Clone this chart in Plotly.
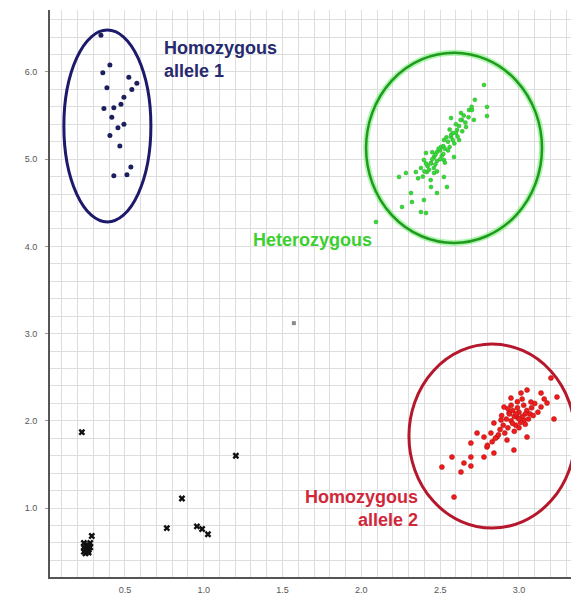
import plotly.graph_objects as go

# ---- data ----
allele1_x = [0.348, 0.405, 0.36, 0.525, 0.576, 0.386, 0.544, 0.494, 0.475, 0.367, 0.43,
             0.417, 0.494, 0.456, 0.405, 0.468, 0.538, 0.43, 0.513]
allele1_y = [6.42, 6.08, 5.99, 5.94, 5.87, 5.82, 5.80, 5.71, 5.63, 5.58, 5.59,
             5.48, 5.40, 5.36, 5.27, 5.15, 4.91, 4.81, 4.82]

hetero_x = [2.778, 2.797, 2.797, 2.683, 2.569, 2.638, 2.664, 2.607, 2.569, 2.524, 2.505, 2.480,
            2.410, 2.461, 2.397, 2.524, 2.588, 2.442, 2.378, 2.416, 2.461, 2.346, 2.283, 2.239,
            2.524, 2.442, 2.543, 2.480, 2.315, 2.397, 2.321, 2.258, 2.378, 2.410, 2.093, 2.702,
            2.632, 2.714,
            2.42, 2.45, 2.47, 2.50, 2.52, 2.55, 2.57, 2.60, 2.62, 2.44, 2.48, 2.51, 2.53, 2.56,
            2.58, 2.49, 2.46, 2.43, 2.40, 2.54, 2.59, 2.61, 2.64, 2.66, 2.68, 2.47, 2.50, 2.52,
            2.55, 2.58, 2.45, 2.53, 2.56, 2.62, 2.39, 2.36, 2.44, 2.48, 2.41, 2.60, 2.65, 2.70,
            2.72, 2.63]
hetero_y = [5.851, 5.599, 5.495, 5.564, 5.472, 5.450, 5.369, 5.335, 5.255, 5.220, 5.140, 5.083,
            5.071, 5.025, 4.991, 4.991, 5.025, 4.956, 4.899, 4.853, 4.842, 4.853, 4.842, 4.796,
            4.796, 4.681, 4.681, 4.612, 4.612, 4.532, 4.509, 4.452, 4.394, 4.383, 4.280, 5.564,
            5.530, 5.450,
            4.92, 5.00, 5.05, 5.10, 5.15, 5.20, 5.28, 5.30, 5.38, 4.95, 4.98, 5.04, 5.12, 5.14,
            5.22, 5.12, 4.90, 4.88, 4.86, 5.25, 5.18, 5.26, 5.32, 5.42, 5.48, 4.94, 5.00, 5.06,
            5.10, 5.30, 5.08, 4.96, 5.34, 5.22, 4.80, 4.78, 4.76, 4.86, 4.95, 5.40, 5.50, 5.60,
            5.68, 5.45]

allele2_x = [3.203, 3.241, 3.140, 3.051, 3.013, 3.222, 3.178, 3.076, 2.949, 2.905, 2.886, 2.841,
             2.937, 2.987, 3.032, 3.051, 2.968, 2.924, 2.860, 2.822, 2.778, 2.734, 2.695, 2.797,
             2.841, 2.778, 2.695, 2.651, 2.575, 2.511, 2.695, 2.632, 2.588,
             2.95, 2.97, 3.00, 3.02, 2.98, 2.93, 3.05, 3.07, 2.99, 2.96, 3.01, 3.04, 2.92, 2.90,
             2.88, 2.94, 3.08, 3.10, 3.03, 2.97, 3.00, 2.91, 2.87, 2.85, 3.06, 3.12, 2.99, 2.95,
             3.02, 2.89, 2.96, 3.00, 3.04, 2.93, 3.09, 2.98, 2.83, 2.80, 3.14, 3.16]
allele2_y = [2.491, 2.273, 2.319, 2.353, 2.319, 2.021, 2.204, 2.216, 2.261, 2.158, 2.009, 1.975,
             2.089, 2.044, 2.009, 1.814, 1.665, 1.780, 1.814, 1.860, 1.814, 1.860, 1.745, 1.700,
             1.631, 1.585, 1.585, 1.516, 1.585, 1.470, 1.482, 1.413, 1.126,
             2.00, 2.05, 2.10, 2.05, 1.95, 1.92, 2.12, 2.08, 2.15, 2.12, 1.98, 1.96, 2.02, 1.95,
             1.90, 2.08, 2.15, 2.20, 2.18, 1.88, 1.92, 1.86, 1.84, 1.80, 2.02, 2.10, 2.22, 2.18,
             2.25, 2.06, 1.97, 2.02, 2.08, 2.14, 2.06, 2.08, 1.76, 1.72, 2.16, 2.25]

nocall_x = [0.227, 1.204, 0.862, 0.766, 0.957, 0.99, 1.027, 0.29,
            0.24, 0.25, 0.26, 0.27, 0.25, 0.24, 0.26, 0.27, 0.28, 0.25, 0.24, 0.26, 0.27, 0.28]
nocall_y = [1.87, 1.60, 1.11, 0.77, 0.79, 0.76, 0.70, 0.68,
            0.50, 0.52, 0.54, 0.56, 0.57, 0.55, 0.50, 0.52, 0.55, 0.48, 0.60, 0.58, 0.49, 0.60]

stray_x = [1.572]
stray_y = [3.12]

x_ticks = [0.5, 1.0, 1.5, 2.0, 2.5, 3.0]
x_tick_labels = ["0.5", "1.0", "1.5", "2.0", "2.5", "3.0"]
y_ticks = [1.0, 2.0, 3.0, 4.0, 5.0, 6.0]
y_tick_labels = ["1.0", "2.0", "3.0", "4.0", "5.0", "6.0"]

fig = go.Figure()

fig.add_trace(go.Scatter(x=stray_x, y=stray_y, mode="markers",
                         marker=dict(symbol="square", size=4, color="#8a8a8a")))
fig.add_trace(go.Scatter(x=nocall_x, y=nocall_y, mode="markers",
                         marker=dict(symbol="x", size=6, color="#111111",
                                     line=dict(width=0))))
fig.add_trace(go.Scatter(x=allele1_x, y=allele1_y, mode="markers",
                         marker=dict(symbol="circle", size=5, color="#1c1f5e")))
fig.add_trace(go.Scatter(x=hetero_x, y=hetero_y, mode="markers",
                         marker=dict(symbol="circle", size=4, color="#2ee02e",
                                     line=dict(width=0.5, color="#3a9a3a"))))
fig.add_trace(go.Scatter(x=allele2_x, y=allele2_y, mode="markers",
                         marker=dict(symbol="circle", size=5, color="#f21a1a",
                                     line=dict(width=0.5, color="#a01818"))))

# ellipses
fig.add_shape(type="circle", xref="x", yref="y", x0=0.113, x1=0.665, y0=4.28, y1=6.48,
              line=dict(color="#1d1a6b", width=3), layer="above")
fig.add_shape(type="circle", xref="x", yref="y", x0=2.03, x1=3.146, y0=4.04, y1=6.22,
              line=dict(color="rgba(120,240,120,0.6)", width=6), layer="above")
fig.add_shape(type="circle", xref="x", yref="y", x0=2.03, x1=3.146, y0=4.04, y1=6.22,
              line=dict(color="#1f9a1f", width=2.5), layer="above")
fig.add_shape(type="circle", xref="x", yref="y", x0=2.302, x1=3.356, y0=0.771, y1=2.881,
              line=dict(color="#b5182c", width=3), layer="above")

fnt = "Liberation Sans, Arial, sans-serif"
fig.add_annotation(x=0.736, y=6.14, xref="x", yref="y", text="<b>Homozygous<br>allele 1</b>",
                   showarrow=False, xanchor="left", yanchor="middle", align="left",
                   font=dict(family=fnt, size=18, color="#262a6e"))
fig.add_annotation(x=1.69, y=4.07, xref="x", yref="y", text="<b>Heterozygous</b>",
                   showarrow=False, xanchor="center", yanchor="middle",
                   font=dict(family=fnt, size=18, color="#3ccf30"))
fig.add_annotation(x=2.375, y=0.995, xref="x", yref="y", text="<b>Homozygous<br>allele 2</b>",
                   showarrow=False, xanchor="right", yanchor="middle", align="right",
                   font=dict(family=fnt, size=18, color="#d0283a"))

grid_c = "#dedede"
fig.update_xaxes(range=[0.025, 3.33], tickvals=x_ticks, ticktext=x_tick_labels,
                 showgrid=True, gridcolor=grid_c, gridwidth=1,
                 minor=dict(dtick=0.1, tick0=0, showgrid=True, gridcolor=grid_c, gridwidth=1),
                 showline=True, linecolor="#555555", linewidth=2,
                 ticks="", ticklabelstandoff=3, automargin=False,
                 tickfont=dict(family=fnt, size=9, color="#555555"),
                 zeroline=False, fixedrange=True)
fig.update_yaxes(range=[0.21, 6.71], tickvals=y_ticks, ticktext=y_tick_labels,
                 showgrid=True, gridcolor=grid_c, gridwidth=1,
                 minor=dict(dtick=0.2, tick0=0, showgrid=True, gridcolor=grid_c, gridwidth=1),
                 showline=True, linecolor="#555555", linewidth=2,
                 ticks="outside", ticklen=3, tickcolor="#999999", ticklabelstandoff=6,
                 automargin=False,
                 tickfont=dict(family=fnt, size=9, color="#555555"),
                 zeroline=False, fixedrange=True)

fig.update_layout(width=571, height=595, margin=dict(l=50, r=0, t=10, b=18),
                  paper_bgcolor="white", plot_bgcolor="white", showlegend=False)

fig.write_html("out.html", config={"displayModeBar": False},
               post_script="document.body.style.margin='0';document.body.style.overflow='hidden';")
